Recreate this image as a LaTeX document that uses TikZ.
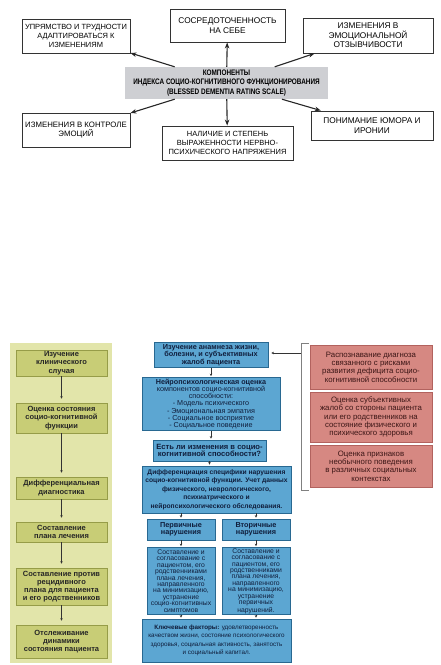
\documentclass[tikz,border=0pt]{standalone}
\usepackage{fontspec}
\setmainfont{Liberation Sans}
\newfontfamily\hubfont[FakeStretch=0.8]{Liberation Sans}
\usetikzlibrary{arrows.meta}

\definecolor{hubgray}{RGB}{206,207,211}
\definecolor{lanebg}{RGB}{226,229,170}
\definecolor{lanebox}{RGB}{200,205,118}
\definecolor{laneline}{RGB}{150,156,72}
\definecolor{bluebox}{RGB}{92,166,210}
\definecolor{blueline}{RGB}{40,104,145}
\definecolor{bluetext}{RGB}{16,30,60}
\definecolor{pinkbox}{RGB}{214,136,130}
\definecolor{pinkline}{RGB}{178,98,94}
\definecolor{pinktext}{RGB}{60,22,22}

\begin{document}
\begin{tikzpicture}[x=1pt,y=-1pt,
  comp/.style={draw=black!80,line width=0.9pt,fill=white,align=center,inner sep=0pt,font=\fontsize{7.5}{8.7}\selectfont},
  compbig/.style={comp,font=\fontsize{8.3}{9.6}\selectfont},
  hub/.style={fill=hubgray,align=center,inner sep=0pt,font=\hubfont\bfseries\fontsize{8}{9.5}\selectfont},
  lane/.style={fill=lanebg,inner sep=0pt},
  stage/.style={draw=laneline,line width=0.6pt,fill=lanebox,align=center,inner sep=0pt,minimum width=91pt,text=black!85,font=\bfseries\fontsize{7.5}{8.2}\selectfont},
  blok/.style={draw=blueline,line width=0.8pt,fill=bluebox,align=center,inner sep=0pt,text=bluetext,font=\fontsize{7.2}{7.1}\selectfont},
  blokb/.style={blok,font=\bfseries\fontsize{7.3}{7.3}\selectfont},
  risk/.style={draw=pinkline,line width=0.6pt,fill=pinkbox,align=center,inner sep=0pt,minimum width=122pt,text=pinktext,font=\fontsize{7.8}{8.3}\selectfont},
  big/.style={-{Stealth[length=6pt,width=4.5pt]},line width=1.1pt,black!85},
  thin/.style={-{Stealth[length=2.5pt,width=2.5pt]},line width=0.4pt,black!80},
]
\useasboundingbox (0,0) rectangle (440,665);

% components of the index
\node[comp,minimum width=108pt,minimum height=34pt]    (b1) at (76,36)      {УПРЯМСТВО И ТРУДНОСТИ\\АДАПТИРОВАТЬСЯ К\\ИЗМЕНЕНИЯМ};
\node[compbig,minimum width=115pt,minimum height=33pt] (b2) at (227.5,25.5) {СОСРЕДОТОЧЕННОСТЬ\\НА СЕБЕ};
\node[compbig,minimum width=130pt,minimum height=35pt] (b3) at (368,35.5)   {ИЗМЕНЕНИЯ В\\ЭМОЦИОНАЛЬНОЙ\\ОТЗЫВЧИВОСТИ};
\node[hub,minimum width=203pt,minimum height=32pt]     (hub) at (226.5,83)  {КОМПОНЕНТЫ\\ИНДЕКСА СОЦИО-КОГНИТИВНОГО ФУНКЦИОНИРОВАНИЯ\\(BLESSED DEMENTIA RATING SCALE)};
\node[comp,minimum width=108pt,minimum height=34pt,font=\fontsize{7.8}{9}\selectfont] (b4) at (76,130) {ИЗМЕНЕНИЯ В КОНТРОЛЕ\\ЭМОЦИЙ};
\node[comp,minimum width=131pt,minimum height=34pt]    (b5) at (227.5,143)  {НАЛИЧИЕ И СТЕПЕНЬ\\ВЫРАЖЕННОСТИ НЕРВНО-\\ПСИХИЧЕСКОГО НАПРЯЖЕНИЯ};
\node[compbig,minimum width=122pt,minimum height=29pt] (b6) at (372,125.5)  {ПОНИМАНИЕ ЮМОРА И\\ИРОНИИ};

\path[big] (hub) edge (b1)
                 edge (b2)
                 edge (b3)
                 edge (b4)
                 edge (b5)
                 edge (b6);

% stages
\node[lane,minimum width=102pt,minimum height=320pt] (lane) at (61,503) {};
\node[stage,minimum height=26pt] (s1) at (61.5,363)   {Изучение\\клинического\\случая};
\node[stage,minimum height=30pt] (s2) at (61.5,418)   {Оценка состояния\\социо-когнитивной\\функции};
\node[stage,minimum height=22pt] (s3) at (61.5,488)   {Дифференциальная\\диагностика};
\node[stage,minimum height=20pt] (s4) at (61.5,532)   {Составление\\плана лечения};
\node[stage,minimum height=37pt] (s5) at (61.5,586.5) {Составление против\\рецидивного\\плана для пациента\\и его родственников};
\node[stage,minimum height=33pt] (s6) at (61.5,641.5) {Отслеживание\\динамики\\состояния пациента};

\path[thin,shorten >=4pt] (s1) edge (s2)
                          (s2) edge (s3)
                          (s3) edge (s4)
                          (s4) edge (s5)
                          (s5) edge (s6);

% assessment flow
\node[blokb,minimum width=114pt,minimum height=25pt] (m1) at (211,355)     {Изучение анамнеза жизни,\\болезни, и субъективных\\жалоб пациента};
\node[blok,minimum width=138pt,minimum height=53pt]  (m2) at (211,404)     {\textbf{Нейропсихологическая оценка}\\компонентов социо-когнитивной\\способности:\\- Модель психического\\- Эмоциональная эмпатия\\- Социальное восприятие\\- Социальное поведение};
\node[blokb,minimum width=113pt,minimum height=21pt,font=\bfseries\fontsize{7.6}{7.8}\selectfont] (m3) at (209.5,450.5) {Есть ли изменения в социо-\\когнитивной способности?};
\node[blokb,minimum width=149pt,minimum height=47pt,font=\bfseries\fontsize{6.7}{8.4}\selectfont] (m4) at (216.5,489.5) {Дифференциация специфики нарушения\\социо-когнитивной функции. Учет данных\\физического, неврологического,\\психиатрического и\\нейропсихологического обследования.};
\node[blokb,minimum width=68pt,minimum height=21pt] (p1) at (181,529.5) {Первичные\\нарушения};
\node[blokb,minimum width=68pt,minimum height=21pt] (p2) at (256,529.5) {Вторичные\\нарушения};
\node[blok,minimum width=68pt,minimum height=67pt,font=\fontsize{6.8}{6.4}\selectfont] (e1) at (181,581) {Составление и\\согласование с\\пациентом, его\\родственниками\\плана лечения,\\направленного\\на минимизацию,\\устранение\\социо-когнитивных\\симптомов};
\node[blok,minimum width=68pt,minimum height=67pt,font=\fontsize{6.8}{6.4}\selectfont] (e2) at (256,581) {Составление и\\согласование с\\пациентом, его\\родственниками\\плана лечения,\\направленного\\на минимизацию,\\устранение\\первичных\\нарушений.};
\node[blok,minimum width=149pt,minimum height=43pt,font=\fontsize{6.3}{8.4}\selectfont] (f) at (216.5,640.5) {\textbf{Ключевые факторы:} удовлетворенность\\качеством жизни, состояние психологического\\здоровья, социальная активность, занятость\\и социальный капитал.};

\path[thin,shorten >=1pt] (m1.south) edge (m1.south |- m2.north)
                          (m2.south) edge (m2.south |- m3.north)
                          (m3.south) edge (m3.south |- m4.north)
                          (p1.north |- m4.south) edge (p1.north)
                          (p2.north |- m4.south) edge (p2.north)
                          (p1.south) edge (e1.north)
                          (p2.south) edge (e2.north)
                          (e1.south) edge (e1.south |- f.north)
                          (e2.south) edge (e2.south |- f.north);

% risk signs
\node[risk,minimum height=44pt] (k1) at (371,367) {Распознавание диагноза\\связанного с рисками\\развития дефицита социо-\\когнитивной способности};
\node[risk,minimum height=50pt] (k2) at (371,417) {Оценка субъективных\\жалоб со стороны пациента\\или его родственников на\\состояние физического и\\психического здоровья};
\node[risk,minimum height=42pt] (k3) at (371,466) {Оценка признаков\\необычного поведения\\в различных социальных\\контекстах};

\coordinate (brtop) at (309,343);
\coordinate (brbot) at (309,490);
\coordinate (brjoin) at (301,353);
\draw[black!50,line width=0.6pt] (brtop) -- (brtop -| brjoin) -- (brbot -| brjoin) -- (brbot);
\draw[thin,shorten >=3pt] (brjoin) -- (brjoin -| m1.east);
\end{tikzpicture}
\end{document}
